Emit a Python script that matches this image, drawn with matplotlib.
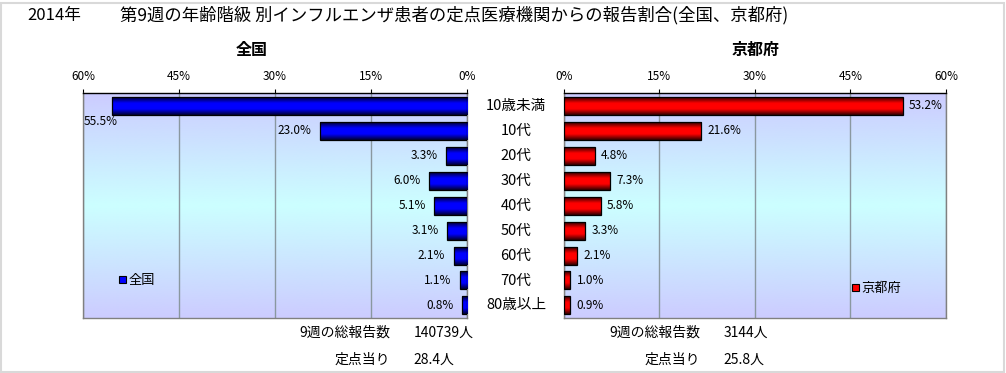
import numpy as np
import matplotlib
matplotlib.use("Agg")
from matplotlib import pyplot as plt
from matplotlib.colors import LinearSegmentedColormap
from matplotlib.patches import Patch
from matplotlib.transforms import blended_transform_factory

plt.rcParams['font.family'] = ['Noto Sans CJK JP', 'DejaVu Sans']

# data
categories = ['10歳未満', '10代', '20代', '30代', '40代', '50代', '60代', '70代', '80歳以上']
zenkoku = [55.5, 23.0, 3.3, 6.0, 5.1, 3.1, 2.1, 1.1, 0.8]
kyoto = [53.2, 21.6, 4.8, 7.3, 5.8, 3.3, 2.1, 1.0, 0.9]
ticks = [0, 15, 30, 45, 60]
totals = {'全国': ('140739人', '28.4人'), '京都府': ('3144人', '25.8人')}

year_label = '2014年'
title = '第9週の年齢階級 別インフルエンザ患者の定点医療機関からの報告割合(全国、京都府)'

bg_cmap = LinearSegmentedColormap.from_list('bg', ['#ccccff', '#ccffff', '#ccccff'])
blue_cmap = LinearSegmentedColormap.from_list('b', ['#000033', '#0000ff', '#0000ff', '#000033'])
red_cmap = LinearSegmentedColormap.from_list('r', ['#330000', '#ff0000', '#ff0000', '#330000'])

fig = plt.figure(figsize=(10.06, 3.73), dpi=100)
fig.patch.set_facecolor('white')
fig.patches.append(plt.Rectangle((0.001, 0.003), 0.997, 0.99, transform=fig.transFigure,
                                 fill=False, edgecolor='#d9d9d9', lw=1.5))

ax1 = fig.add_axes([0.0825, 0.1475, 0.3817, 0.603])
ax2 = fig.add_axes([0.5606, 0.1475, 0.3797, 0.603])


def draw_panel(ax, values, cmap, color, name, side):
    ax.imshow(np.linspace(0, 1, 200).reshape(-1, 1), extent=[0, 1, 0, 1], transform=ax.transAxes,
              cmap=bg_cmap, aspect='auto', zorder=-1, interpolation='bicubic')
    y = np.arange(len(categories))
    bars = ax.barh(y, values, height=0.72, color=color, edgecolor='black', lw=0.9, zorder=4, label=name)
    grad = np.linspace(0, 1, 50).reshape(-1, 1)
    for b in bars:
        x0, y0 = b.get_xy()
        im = ax.imshow(grad, extent=[x0, x0 + b.get_width(), y0 + b.get_height(), y0],
                       cmap=cmap, aspect='auto', zorder=3, interpolation='bicubic')
        im.set_clip_path(b)
    if side == 'left':
        ax.set_xlim(60, 0)
    else:
        ax.set_xlim(0, 60)
    ax.set_ylim(len(categories) - 0.5, -0.5)

    ax.legend(handles=[Patch(facecolor=color, edgecolor='black', lw=0.8, label=name)],
              loc='center left', frameon=False, fontsize=9.5,
              bbox_to_anchor=(0.095, 0.165) if side == 'left' else (0.755, 0.13),
              handlelength=0.5, handleheight=0.5, handletextpad=0.15, borderpad=0, borderaxespad=0)
    for b in bars:
        b.set_facecolor('none')

    for i, v in enumerate(values):
        lab = f'{v:.1f}%'
        if side == 'left':
            if v > 50:
                ax.text(0.003, i + 0.62, lab, transform=blended_transform_factory(ax.transAxes, ax.transData),
                        ha='left', va='center', fontsize=8.5, zorder=6)
            else:
                ax.annotate(lab, (v, i), xytext=(-6, 0), textcoords='offset points',
                            ha='right', va='center', fontsize=8.5, zorder=6)
        else:
            ax.annotate(lab, (v, i), xytext=(4.5, 0), textcoords='offset points',
                        ha='left', va='center', fontsize=8.5, zorder=6)

    ax.set_xticks(ticks)
    ax.set_xticklabels([f'{t}%' for t in ticks], fontsize=8.5)
    ax.xaxis.tick_top()
    ax.tick_params(axis='x', direction='out', length=3, pad=4, width=0.8)
    ax.set_yticks([])
    ax.grid(axis='x', color='#8a98a0', lw=1, zorder=1)
    ax.set_axisbelow(True)
    for s in ['left', 'right', 'bottom']:
        ax.spines[s].set_color('#808080')
    ax.spines['top'].set_color('black')
    for s in ax.spines.values():
        s.set_linewidth(1)


draw_panel(ax1, zenkoku, blue_cmap, '#0000ff', '全国', 'left')
draw_panel(ax2, kyoto, red_cmap, '#ff0000', '京都府', 'right')

# category labels between the two panels
tr = blended_transform_factory(fig.transFigure, ax1.transData)
for i, c in enumerate(categories):
    fig.text(0.513, i, c, transform=tr, ha='center', va='center', fontsize=10.5)

fig.text(0.027, 0.958, year_label, ha='left', va='center', fontsize=12)
fig.text(0.119, 0.958, title, ha='left', va='center', fontsize=12.5)
fig.text(0.2505, 0.866, '全国', ha='center', va='center', fontsize=11.5, fontweight='bold')
fig.text(0.751, 0.866, '京都府', ha='center', va='center', fontsize=11.5, fontweight='bold')

# totals under each panel
for name, x_lab, x_val in [('全国', 0.388, 0.411), ('京都府', 0.696, 0.719)]:
    total, per = totals[name]
    fig.text(x_lab, 0.107, '9週の総報告数', ha='right', va='center', fontsize=10)
    fig.text(x_val, 0.107, total, ha='left', va='center', fontsize=10)
    fig.text(x_lab, 0.035, '定点当り', ha='right', va='center', fontsize=10)
    fig.text(x_val, 0.035, per, ha='left', va='center', fontsize=10)

fig.savefig('out.png', dpi=100)
